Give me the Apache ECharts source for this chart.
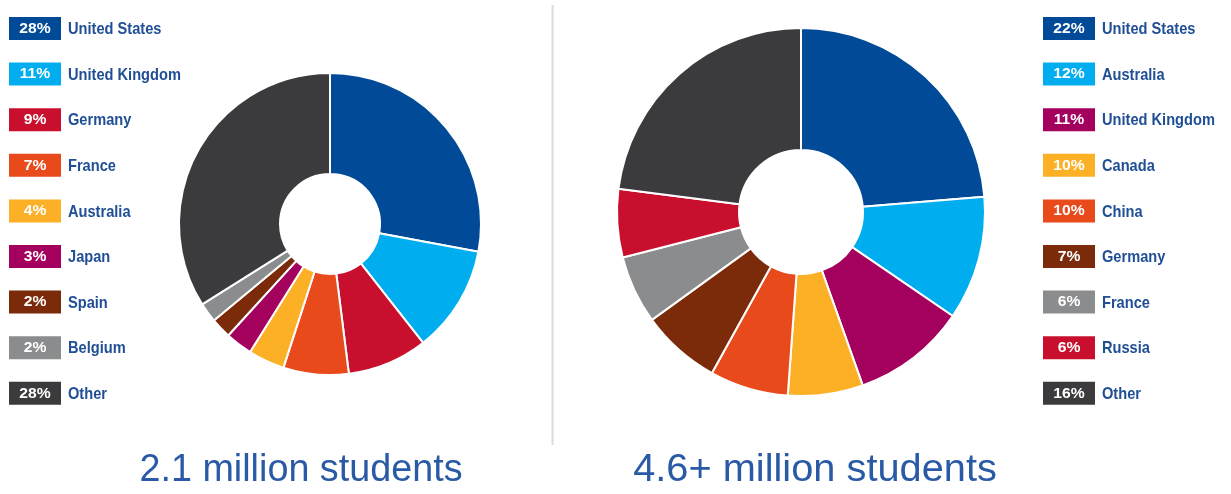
<!DOCTYPE html>
<html><head><meta charset="utf-8">
<script src="https://cdn.jsdelivr.net/npm/echarts@6/dist/echarts.min.js"></script>
<style>html,body{margin:0;padding:0;background:#fff}#c{width:1231px;height:494px}</style>
</head><body><div id="c"></div>
<script>
// Left chart (2.1 million students)
const leftNames = ['United States','United Kingdom','Germany','France','Australia','Japan','Spain','Belgium','Other'];
const leftLabels = ['28%','11%','9%','7%','4%','3%','2%','2%','28%'];
const leftValues = [28, 11.5, 8.6, 7, 3.9, 2.9, 2.2, 2.1, 34];
const leftColors = ['#004a97','#00adef','#c8102e','#e84a1c','#fbb026','#a4005e','#7b2a0a','#8b8c8e','#3b3b3d'];
const leftTitle = '2.1 million students';

// Right chart (4.6+ million students)
const rightNames = ['United States','Australia','United Kingdom','Canada','China','Germany','France','Russia','Other'];
const rightLabels = ['22%','12%','11%','10%','10%','7%','6%','6%','16%'];
const rightValues = [23.7, 10.9, 10, 6.6, 6.9, 7, 6, 6, 23];
const rightColors = ['#004a97','#00adef','#a4005e','#fbb026','#e84a1c','#7b2a0a','#8b8c8e','#c8102e','#3b3b3d'];
const rightTitle = '4.6+ million students';

const chart = echarts.init(document.getElementById('c'), null, {renderer:'canvas'});

function pieData(names, values, colors){
  return names.map((n,i)=>({name:n, value:values[i], itemStyle:{color:colors[i]}}));
}
function legendGraphics(names, labels, colors, x0){
  const g = [];
  names.forEach((n,i)=>{
    const cy = 29 + i*45.6;
    g.push({type:'rect', left:x0, top:cy-12, shape:{width:52,height:23}, style:{fill:colors[i]}, silent:true});
    g.push({type:'text', x:x0+26, y:cy, scaleX:1.12, style:{text:labels[i], fill:'#fff', font:'bold 14px "Liberation Sans", Arial, sans-serif', textAlign:'center', textVerticalAlign:'middle'}, silent:true});
    g.push({type:'text', x:x0+59, y:cy+0.5, scaleX:0.86, style:{text:n, fill:'#204f96', font:'bold 17px "Liberation Sans", Arial, sans-serif', textAlign:'left', textVerticalAlign:'middle'}, silent:true});
  });
  return g;
}

const graphics = [].concat(
  legendGraphics(leftNames, leftLabels, leftColors, 9),
  legendGraphics(rightNames, rightLabels, rightColors, 1043),
  [
    {type:'line', shape:{x1:552.5,y1:5,x2:552.5,y2:445}, style:{stroke:'#dcdcdc', lineWidth:2}, silent:true},
    {type:'text', x:301, y:470, scaleX:0.968, style:{text:leftTitle, fill:'#2a5aa6', font:'39px "Liberation Sans", Arial, sans-serif', textAlign:'center', textVerticalAlign:'middle'}, silent:true},
    {type:'text', x:815, y:470, scaleX:1.02, style:{text:rightTitle, fill:'#2a5aa6', font:'39px "Liberation Sans", Arial, sans-serif', textAlign:'center', textVerticalAlign:'middle'}, silent:true}
  ]
);

const pieCommon = {
  type:'pie', startAngle:90, clockwise:true, silent:true, avoidLabelOverlap:false,
  label:{show:false}, labelLine:{show:false},
  itemStyle:{borderColor:'#fff', borderWidth:2}
};

chart.setOption({
  animation:false,
  backgroundColor:'#fff',
  series:[
    Object.assign({}, pieCommon, {center:[330,224], radius:[50,151], data:pieData(leftNames,leftValues,leftColors)}),
    Object.assign({}, pieCommon, {center:[801,212], radius:[62,184], data:pieData(rightNames,rightValues,rightColors)})
  ],
  graphic:graphics
});
</script></body></html>
